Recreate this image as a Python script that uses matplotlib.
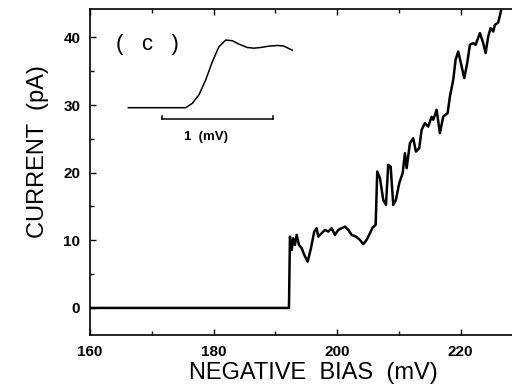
import numpy as np
import matplotlib.pyplot as plt
from matplotlib.ticker import MultipleLocator

plt.rcParams['font.family'] = ['Liberation Sans', 'DejaVu Sans']

# tunneling current vs. negative bias
bias = [160.0, 192.2, 192.36, 192.64, 192.90, 193.17, 193.45, 193.82, 194.26, 194.68,
        195.23, 195.76, 196.29, 196.68, 196.94, 197.49, 198.03, 198.56, 199.11, 199.64,
        200.18, 200.73, 201.26, 201.80, 202.35, 203.04, 203.69, 204.22, 204.77, 205.31,
        205.74, 206.23, 206.49, 206.93, 207.46, 207.90, 208.27, 208.66, 209.08, 209.51,
        210.05, 210.60, 210.97, 211.25, 211.78, 212.31, 212.75, 213.28, 213.67, 214.21,
        214.74, 215.29, 215.55, 216.10, 216.63, 217.17, 217.88, 218.25, 218.79, 219.17,
        219.60, 220.03, 220.57, 221.05, 221.49, 222.02, 222.41, 223.11, 223.64, 224.03,
        224.45, 224.84, 225.26, 225.53, 226.07, 226.62, 227.0]
current = [0.0, 0.0, 10.55, 8.58, 10.31, 9.32, 10.80, 9.32, 8.83, 7.84,
           6.85, 8.83, 11.29, 11.79, 10.55, 11.05, 11.54, 11.29, 11.79, 10.80,
           11.54, 11.79, 12.03, 11.54, 10.80, 10.55, 10.06, 9.42, 10.06, 11.05,
           11.88, 12.28, 20.16, 19.19, 15.98, 15.24, 21.15, 20.90, 15.24, 15.98,
           18.45, 19.93, 22.88, 20.67, 24.36, 25.10, 23.12, 23.62, 26.33, 27.32,
           26.82, 28.25, 27.81, 29.29, 25.84, 28.30, 28.80, 31.26, 33.73, 36.69,
           37.91, 36.20, 33.98, 36.20, 38.91, 39.16, 38.91, 40.64, 39.16, 37.68,
           40.13, 41.38, 40.87, 41.86, 42.20, 44.33, 46.0]

# inset: onset step on a fine bias scale (relative mV, normalised current)
inset_bias = [0.000, 0.516, 0.577, 0.636, 0.697, 0.757, 0.816, 0.877, 0.937, 0.996,
              1.072, 1.131, 1.192, 1.267, 1.342, 1.402, 1.477]
inset_current = [0.0, 0.0, 0.065, 0.19, 0.41, 0.68, 0.90, 1.0, 0.99, 0.94,
                 0.89, 0.88, 0.89, 0.91, 0.92, 0.91, 0.85]
scale_bar = [0.30, 1.30]

xticks = [160, 180, 200, 220]
yticks = [0, 10, 20, 30, 40]

fig = plt.figure(figsize=(5.12, 3.88), dpi=100)
ax = fig.add_axes([0.1758, 0.1366, 0.8242, 0.8402])

ax.plot(bias, current, color='black', lw=1.8, solid_joinstyle='round')
ax.set_xlim(160, 228.3)
ax.set_ylim(-4, 44.2)

ax.set_xticks(xticks)
ax.set_yticks(yticks)
ax.xaxis.set_minor_locator(MultipleLocator(10))
ax.yaxis.set_minor_locator(MultipleLocator(5))
ax.tick_params(which='both', direction='in', top=True, right=False, width=1.0,
               labelsize=11, pad=7)
ax.tick_params(which='major', length=4)
ax.tick_params(which='minor', length=3)
for lab in ax.get_xticklabels() + ax.get_yticklabels():
    lab.set_fontweight('bold')
for side in ['left', 'bottom', 'top']:
    ax.spines[side].set_linewidth(1.2)
ax.spines['right'].set_visible(False)

ax.set_xlabel('NEGATIVE  BIAS  (mV)', fontsize=17)
ax.set_ylabel('CURRENT  (pA)', fontsize=17)
ax.xaxis.set_label_coords(0.53, -0.082)
ax.yaxis.set_label_coords(-0.097, 0.564)

ax.text(0.136, 0.89, '(   c   )', transform=ax.transAxes, fontsize=16,
        ha='center', va='center')

# inset trace with 1 mV scale bar
ins = fig.add_axes([0.2344, 0.6778, 0.3516, 0.2448])
ins.plot(inset_bias, inset_current, color='black', lw=1.1)
ins.plot(scale_bar, [-0.17, -0.17], color='black', lw=1.1)
for xb in scale_bar:
    ins.plot([xb, xb], [-0.17, -0.13], color='black', lw=1.1)
ins.text(np.mean(scale_bar) - 0.1, -0.43, '1  (mV)', fontsize=9.5,
         fontweight='bold', ha='center', va='center')
ins.set_xlim(-0.075, 1.547)
ins.set_ylim(-0.256, 1.148)
ins.axis('off')

fig.savefig('out.png', dpi=100)
